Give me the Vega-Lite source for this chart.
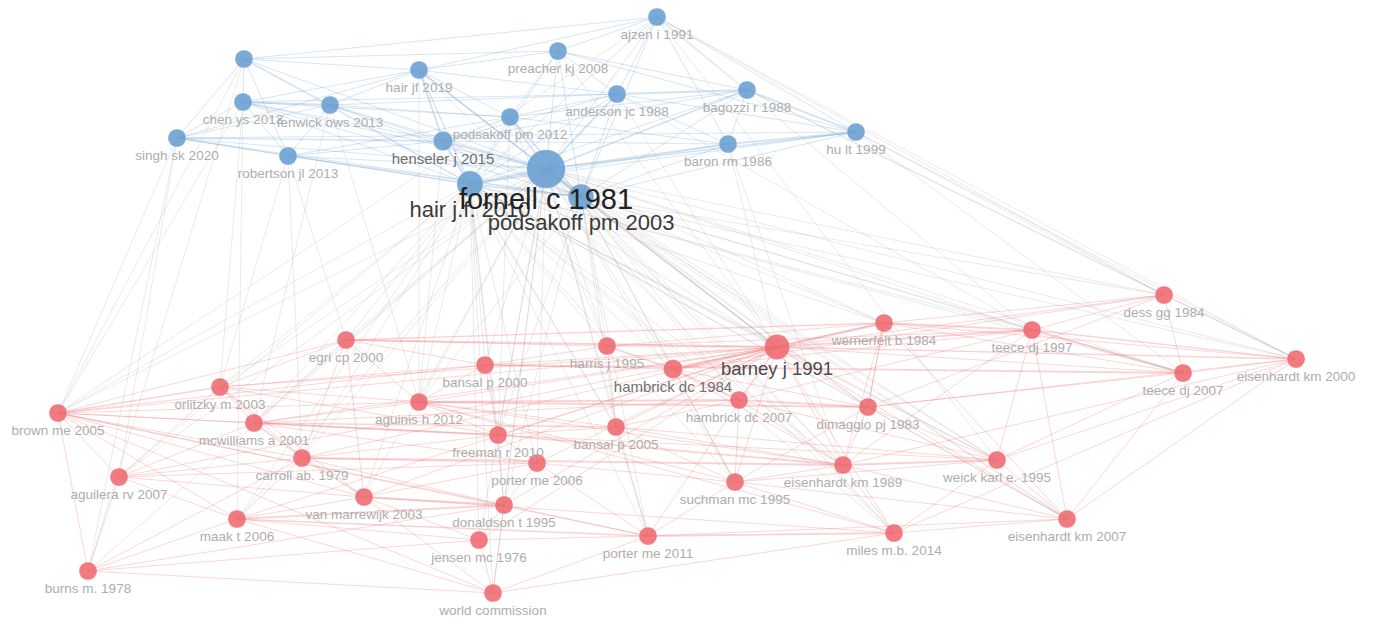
{
  "$schema": "https://vega.github.io/schema/vega-lite/v6.json",
  "width": 1373,
  "height": 625,
  "autosize": {"type": "fit", "contains": "padding"},
  "padding": 0,
  "background": "white",
  "config": {"view": {"stroke": null}, "font": "Liberation Sans"},
  "datasets": {
    "nodes": [
      {"id":"aj","label":"ajzen i 1991","x":657,"y":17,"c":"blue","w":10},
      {"id":"pr","label":"preacher kj 2008","x":558,"y":51,"c":"blue","w":10},
      {"id":"h19","label":"hair jf 2019","x":419,"y":70,"c":"blue","w":10},
      {"id":"b0","label":"","x":244,"y":59,"c":"blue","w":10},
      {"id":"ch","label":"chen ys 2013","x":243,"y":102,"c":"blue","w":10},
      {"id":"fe","label":"fenwick ows 2013","x":330,"y":105,"c":"blue","w":10},
      {"id":"si","label":"singh sk 2020","x":177,"y":138,"c":"blue","w":10},
      {"id":"ro","label":"robertson jl 2013","x":288,"y":156,"c":"blue","w":10},
      {"id":"he","label":"henseler j 2015","x":443,"y":141,"c":"blue","w":14},
      {"id":"p12","label":"podsakoff pm 2012","x":510,"y":117,"c":"blue","w":10},
      {"id":"an","label":"anderson jc 1988","x":617,"y":94,"c":"blue","w":10},
      {"id":"bg","label":"bagozzi r 1988","x":747,"y":90,"c":"blue","w":10},
      {"id":"br","label":"baron rm 1986","x":728,"y":144,"c":"blue","w":10},
      {"id":"hu","label":"hu lt 1999","x":856,"y":132,"c":"blue","w":10},
      {"id":"fo","label":"fornell c 1981","x":546,"y":169,"c":"blue","w":100},
      {"id":"h10","label":"hair j.f. 2010","x":470,"y":184,"c":"blue","w":38},
      {"id":"p03","label":"podsakoff pm 2003","x":581,"y":197,"c":"blue","w":36},
      {"id":"de","label":"dess gg 1984","x":1164,"y":295,"c":"red","w":10},
      {"id":"we","label":"wernerfelt b 1984","x":884,"y":323,"c":"red","w":10},
      {"id":"t97","label":"teece dj 1997","x":1032,"y":330,"c":"red","w":10},
      {"id":"eg","label":"egri cp 2000","x":346,"y":340,"c":"red","w":10},
      {"id":"e00","label":"eisenhardt km 2000","x":1296,"y":359,"c":"red","w":10},
      {"id":"ba","label":"barney j 1991","x":777,"y":347,"c":"red","w":34},
      {"id":"ha","label":"harris j 1995","x":607,"y":346,"c":"red","w":10},
      {"id":"b00","label":"bansal p 2000","x":485,"y":365,"c":"red","w":10},
      {"id":"h84","label":"hambrick dc 1984","x":673,"y":369,"c":"red","w":13},
      {"id":"t07","label":"teece dj 2007","x":1183,"y":373,"c":"red","w":10},
      {"id":"bm","label":"brown me 2005","x":58,"y":413,"c":"red","w":10},
      {"id":"or","label":"orlitzky m 2003","x":220,"y":387,"c":"red","w":10},
      {"id":"ag","label":"aguinis h 2012","x":419,"y":402,"c":"red","w":10},
      {"id":"h07","label":"hambrick dc 2007","x":739,"y":400,"c":"red","w":10},
      {"id":"di","label":"dimaggio pj 1983","x":868,"y":407,"c":"red","w":10},
      {"id":"mc","label":"mcwilliams a 2001","x":254,"y":423,"c":"red","w":10},
      {"id":"fr","label":"freeman r 2010","x":498,"y":435,"c":"red","w":10},
      {"id":"b05","label":"bansal p 2005","x":616,"y":427,"c":"red","w":10},
      {"id":"ca","label":"carroll ab. 1979","x":302,"y":458,"c":"red","w":10},
      {"id":"p06","label":"porter me 2006","x":537,"y":463,"c":"red","w":10},
      {"id":"e89","label":"eisenhardt km 1989","x":843,"y":465,"c":"red","w":10},
      {"id":"wk","label":"weick karl e. 1995","x":997,"y":460,"c":"red","w":10},
      {"id":"au","label":"aguilera rv 2007","x":119,"y":477,"c":"red","w":10},
      {"id":"su","label":"suchman mc 1995","x":735,"y":482,"c":"red","w":10},
      {"id":"va","label":"van marrewijk 2003","x":364,"y":497,"c":"red","w":10},
      {"id":"do","label":"donaldson t 1995","x":504,"y":505,"c":"red","w":10},
      {"id":"ma","label":"maak t 2006","x":237,"y":519,"c":"red","w":10},
      {"id":"e07","label":"eisenhardt km 2007","x":1067,"y":519,"c":"red","w":10},
      {"id":"mi","label":"miles m.b. 2014","x":894,"y":533,"c":"red","w":10},
      {"id":"p11","label":"porter me 2011","x":648,"y":536,"c":"red","w":10},
      {"id":"je","label":"jensen mc 1976","x":479,"y":540,"c":"red","w":10},
      {"id":"bu","label":"burns m. 1978","x":88,"y":571,"c":"red","w":10},
      {"id":"wc","label":"world commission","x":493,"y":593,"c":"red","w":10}
    ],
    "edges": [
      {"s":"fo","t":"aj","w":1},{"s":"fo","t":"pr","w":1},{"s":"fo","t":"h19","w":1.5},{"s":"fo","t":"b0","w":1},{"s":"fo","t":"ch","w":1},{"s":"fo","t":"fe","w":1},{"s":"fo","t":"si","w":1},{"s":"fo","t":"ro","w":1},{"s":"fo","t":"he","w":2},{"s":"fo","t":"p12","w":1.5},{"s":"fo","t":"an","w":2},{"s":"fo","t":"bg","w":2},{"s":"fo","t":"br","w":1.5},{"s":"fo","t":"hu","w":1.5},{"s":"fo","t":"h10","w":3},{"s":"fo","t":"p03","w":3},
      {"s":"h10","t":"aj","w":1},{"s":"h10","t":"pr","w":1},{"s":"h10","t":"h19","w":1.5},{"s":"h10","t":"b0","w":1},{"s":"h10","t":"ch","w":1},{"s":"h10","t":"fe","w":1},{"s":"h10","t":"si","w":1},{"s":"h10","t":"ro","w":1},{"s":"h10","t":"he","w":2},{"s":"h10","t":"p12","w":1},{"s":"h10","t":"an","w":1},{"s":"h10","t":"bg","w":1},{"s":"h10","t":"br","w":1},{"s":"h10","t":"hu","w":1},{"s":"h10","t":"p03","w":2},
      {"s":"p03","t":"aj","w":1},{"s":"p03","t":"pr","w":1},{"s":"p03","t":"h19","w":1},{"s":"p03","t":"ch","w":1},{"s":"p03","t":"fe","w":1},{"s":"p03","t":"si","w":1},{"s":"p03","t":"ro","w":1},{"s":"p03","t":"he","w":1},{"s":"p03","t":"p12","w":2},{"s":"p03","t":"an","w":1},{"s":"p03","t":"bg","w":1},{"s":"p03","t":"br","w":1},{"s":"p03","t":"hu","w":1},
      {"s":"b0","t":"ch","w":1},{"s":"b0","t":"fe","w":1},{"s":"b0","t":"si","w":1},{"s":"b0","t":"ro","w":1},{"s":"b0","t":"h19","w":1},{"s":"b0","t":"pr","w":1},{"s":"b0","t":"aj","w":1},
      {"s":"ch","t":"fe","w":2},{"s":"ch","t":"si","w":1},{"s":"ch","t":"ro","w":1},{"s":"ch","t":"he","w":1},{"s":"ch","t":"h19","w":1},{"s":"ch","t":"p12","w":1},{"s":"ch","t":"an","w":1},
      {"s":"si","t":"ro","w":1},{"s":"si","t":"fe","w":1},{"s":"si","t":"he","w":1.5},{"s":"si","t":"h19","w":1},{"s":"si","t":"hu","w":1},
      {"s":"ro","t":"fe","w":1},{"s":"ro","t":"he","w":1},{"s":"ro","t":"p12","w":1},
      {"s":"fe","t":"h19","w":1},{"s":"fe","t":"he","w":1},{"s":"fe","t":"p12","w":1},{"s":"fe","t":"an","w":1},
      {"s":"h19","t":"he","w":2},{"s":"h19","t":"pr","w":1},{"s":"h19","t":"p12","w":1},{"s":"h19","t":"an","w":1},{"s":"h19","t":"aj","w":1},
      {"s":"he","t":"p12","w":1},{"s":"he","t":"an","w":1},{"s":"he","t":"br","w":1},{"s":"he","t":"bg","w":1},
      {"s":"p12","t":"an","w":1},{"s":"p12","t":"br","w":1},{"s":"p12","t":"bg","w":1},{"s":"p12","t":"pr","w":1},
      {"s":"an","t":"bg","w":2},{"s":"an","t":"br","w":1},{"s":"an","t":"pr","w":1},{"s":"an","t":"aj","w":1},{"s":"an","t":"hu","w":1},
      {"s":"bg","t":"br","w":1},{"s":"bg","t":"hu","w":2},{"s":"bg","t":"pr","w":1},{"s":"bg","t":"aj","w":1},
      {"s":"br","t":"hu","w":2},{"s":"br","t":"aj","w":1},{"s":"pr","t":"aj","w":1},{"s":"hu","t":"aj","w":1},{"s":"pr","t":"hu","w":1},
      {"s":"fo","t":"ba","w":1.5},{"s":"fo","t":"we","w":1},{"s":"fo","t":"t97","w":1},{"s":"fo","t":"eg","w":1},{"s":"fo","t":"e00","w":1},{"s":"fo","t":"ha","w":1},{"s":"fo","t":"b00","w":1},{"s":"fo","t":"h84","w":1},{"s":"fo","t":"t07","w":1},{"s":"fo","t":"bm","w":1},{"s":"fo","t":"or","w":1},{"s":"fo","t":"ag","w":1},{"s":"fo","t":"h07","w":1},{"s":"fo","t":"di","w":1},{"s":"fo","t":"mc","w":1},{"s":"fo","t":"fr","w":1},{"s":"fo","t":"b05","w":1},{"s":"fo","t":"ca","w":1},{"s":"fo","t":"p06","w":1},{"s":"fo","t":"e89","w":1},{"s":"fo","t":"wk","w":1},{"s":"fo","t":"au","w":1},{"s":"fo","t":"su","w":1},{"s":"fo","t":"va","w":1},{"s":"fo","t":"do","w":1},{"s":"fo","t":"ma","w":1},{"s":"fo","t":"e07","w":1},{"s":"fo","t":"mi","w":1},{"s":"fo","t":"p11","w":1},{"s":"fo","t":"je","w":1},{"s":"fo","t":"bu","w":1},{"s":"fo","t":"wc","w":1},{"s":"fo","t":"de","w":1},
      {"s":"h10","t":"ba","w":1.5},{"s":"h10","t":"we","w":1},{"s":"h10","t":"t97","w":1},{"s":"h10","t":"eg","w":1},{"s":"h10","t":"ha","w":1},{"s":"h10","t":"b00","w":1},{"s":"h10","t":"h84","w":1},{"s":"h10","t":"t07","w":1},{"s":"h10","t":"bm","w":1},{"s":"h10","t":"or","w":1},{"s":"h10","t":"ag","w":1},{"s":"h10","t":"h07","w":1},{"s":"h10","t":"di","w":1},{"s":"h10","t":"mc","w":1},{"s":"h10","t":"fr","w":1},{"s":"h10","t":"b05","w":1},{"s":"h10","t":"ca","w":1},{"s":"h10","t":"p06","w":1},{"s":"h10","t":"e89","w":1},{"s":"h10","t":"wk","w":1},{"s":"h10","t":"au","w":1},{"s":"h10","t":"su","w":1},{"s":"h10","t":"va","w":1},{"s":"h10","t":"do","w":1},{"s":"h10","t":"ma","w":1},{"s":"h10","t":"e07","w":1},{"s":"h10","t":"mi","w":1},{"s":"h10","t":"p11","w":1},{"s":"h10","t":"je","w":1},{"s":"h10","t":"wc","w":1},
      {"s":"p03","t":"ba","w":1.5},{"s":"p03","t":"we","w":1},{"s":"p03","t":"t97","w":1},{"s":"p03","t":"ha","w":1},{"s":"p03","t":"h84","w":1},{"s":"p03","t":"t07","w":1},{"s":"p03","t":"ag","w":1},{"s":"p03","t":"h07","w":1},{"s":"p03","t":"di","w":1},{"s":"p03","t":"fr","w":1},{"s":"p03","t":"b05","w":1},{"s":"p03","t":"e89","w":1},{"s":"p03","t":"wk","w":1},{"s":"p03","t":"su","w":1},{"s":"p03","t":"do","w":1},{"s":"p03","t":"mi","w":1},{"s":"p03","t":"p11","w":1},{"s":"p03","t":"e07","w":1},{"s":"p03","t":"de","w":1},{"s":"p03","t":"e00","w":1},
      {"s":"he","t":"ba","w":1},{"s":"he","t":"ag","w":1},{"s":"he","t":"b05","w":1},{"s":"h19","t":"ag","w":1},{"s":"h19","t":"ba","w":1},{"s":"h19","t":"mi","w":1},{"s":"an","t":"ba","w":1},{"s":"an","t":"t97","w":1},{"s":"bg","t":"e00","w":1},{"s":"bg","t":"de","w":1},{"s":"hu","t":"e00","w":1},{"s":"hu","t":"t07","w":1},{"s":"hu","t":"de","w":1},{"s":"br","t":"ba","w":1},{"s":"br","t":"e89","w":1},{"s":"pr","t":"ba","w":1},{"s":"aj","t":"e00","w":1},{"s":"aj","t":"de","w":1},{"s":"aj","t":"t97","w":1},{"s":"si","t":"bm","w":1},{"s":"si","t":"au","w":1},{"s":"si","t":"bu","w":1},{"s":"ch","t":"bm","w":1},{"s":"ch","t":"or","w":1},{"s":"ch","t":"ma","w":1},{"s":"ro","t":"eg","w":1},{"s":"ro","t":"or","w":1},{"s":"ro","t":"ca","w":1},{"s":"fe","t":"mc","w":1},{"s":"fe","t":"ag","w":1},{"s":"p12","t":"fr","w":1},{"s":"p12","t":"ha","w":1},{"s":"b0","t":"bm","w":1},{"s":"b0","t":"bu","w":1},{"s":"aj","t":"bm","w":1},{"s":"aj","t":"wk","w":1},
      {"s":"ba","t":"we","w":3},{"s":"ba","t":"t97","w":2},{"s":"ba","t":"de","w":1},{"s":"ba","t":"e00","w":1.5},{"s":"ba","t":"t07","w":1},{"s":"ba","t":"ha","w":1},{"s":"ba","t":"h84","w":2},{"s":"ba","t":"b00","w":1},{"s":"ba","t":"eg","w":2},{"s":"ba","t":"h07","w":1},{"s":"ba","t":"di","w":1},{"s":"ba","t":"e89","w":1},{"s":"ba","t":"wk","w":1},{"s":"ba","t":"su","w":1},{"s":"ba","t":"mi","w":1},{"s":"ba","t":"e07","w":1},{"s":"ba","t":"p11","w":1},{"s":"ba","t":"ag","w":1},{"s":"ba","t":"fr","w":1},{"s":"ba","t":"b05","w":1},{"s":"ba","t":"bm","w":1},{"s":"ba","t":"or","w":1},{"s":"ba","t":"mc","w":1},{"s":"ba","t":"ca","w":1},{"s":"ba","t":"p06","w":1},{"s":"ba","t":"va","w":1},{"s":"ba","t":"do","w":1},{"s":"ba","t":"je","w":1},{"s":"ba","t":"ma","w":1},{"s":"ba","t":"au","w":1},
      {"s":"we","t":"t97","w":2},{"s":"we","t":"de","w":1},{"s":"we","t":"e00","w":1},{"s":"we","t":"t07","w":1},{"s":"we","t":"h84","w":1},{"s":"we","t":"di","w":1},{"s":"we","t":"e89","w":1},
      {"s":"t97","t":"de","w":1},{"s":"t97","t":"e00","w":1.5},{"s":"t97","t":"t07","w":2},{"s":"t97","t":"e89","w":1},{"s":"t97","t":"wk","w":1},{"s":"t97","t":"e07","w":1},{"s":"t97","t":"h07","w":1},
      {"s":"de","t":"t07","w":1},{"s":"de","t":"e00","w":1},{"s":"de","t":"di","w":1},{"s":"de","t":"h84","w":1},
      {"s":"e00","t":"t07","w":1},{"s":"e00","t":"e89","w":1},{"s":"e00","t":"e07","w":1},{"s":"e00","t":"wk","w":1},{"s":"e00","t":"mi","w":1},{"s":"e00","t":"di","w":1},
      {"s":"t07","t":"e07","w":1},{"s":"t07","t":"wk","w":1},{"s":"t07","t":"di","w":1},
      {"s":"eg","t":"ha","w":1},{"s":"eg","t":"b00","w":1},{"s":"eg","t":"bm","w":1},{"s":"eg","t":"or","w":1},{"s":"eg","t":"ca","w":1},{"s":"eg","t":"va","w":1},{"s":"eg","t":"ag","w":1},{"s":"eg","t":"mc","w":1},{"s":"eg","t":"we","w":1.5},
      {"s":"ha","t":"b00","w":1},{"s":"ha","t":"h84","w":2},{"s":"ha","t":"t97","w":1},{"s":"ha","t":"we","w":1},{"s":"ha","t":"b05","w":1},
      {"s":"b00","t":"h84","w":1},{"s":"b00","t":"ag","w":1},{"s":"b00","t":"or","w":1},{"s":"b00","t":"fr","w":1},{"s":"b00","t":"bm","w":1},{"s":"b00","t":"t07","w":2},
      {"s":"h84","t":"h07","w":2},{"s":"h84","t":"t97","w":1},{"s":"h84","t":"di","w":1},{"s":"h84","t":"e89","w":1},{"s":"h84","t":"su","w":1},
      {"s":"bm","t":"or","w":1.5},{"s":"bm","t":"mc","w":1},{"s":"bm","t":"ca","w":1},{"s":"bm","t":"au","w":1},{"s":"bm","t":"ag","w":1},{"s":"bm","t":"ma","w":1},{"s":"bm","t":"bu","w":1},{"s":"bm","t":"va","w":1},{"s":"bm","t":"fr","w":1},{"s":"bm","t":"do","w":1},{"s":"bm","t":"p11","w":1},{"s":"bm","t":"wc","w":1},
      {"s":"or","t":"mc","w":1},{"s":"or","t":"ag","w":1},{"s":"or","t":"fr","w":1},{"s":"or","t":"ca","w":1},{"s":"or","t":"va","w":1},{"s":"or","t":"au","w":1},
      {"s":"ag","t":"h07","w":2},{"s":"ag","t":"di","w":2},{"s":"ag","t":"mc","w":1},{"s":"ag","t":"fr","w":1},{"s":"ag","t":"b05","w":1},{"s":"ag","t":"e89","w":1},{"s":"ag","t":"su","w":1},{"s":"ag","t":"mi","w":1},
      {"s":"h07","t":"di","w":2},{"s":"h07","t":"e89","w":1},{"s":"h07","t":"su","w":1},{"s":"h07","t":"wk","w":1},
      {"s":"di","t":"e89","w":1},{"s":"di","t":"su","w":1},{"s":"di","t":"wk","w":1},{"s":"di","t":"e07","w":1},{"s":"di","t":"we","w":1},
      {"s":"mc","t":"fr","w":2},{"s":"mc","t":"ca","w":1},{"s":"mc","t":"h07","w":1},{"s":"mc","t":"p06","w":1},{"s":"mc","t":"va","w":1},{"s":"mc","t":"au","w":1},{"s":"mc","t":"b05","w":1.5},
      {"s":"fr","t":"b05","w":1},{"s":"fr","t":"e89","w":2},{"s":"fr","t":"p06","w":1},{"s":"fr","t":"do","w":1},{"s":"fr","t":"ca","w":1},{"s":"fr","t":"wk","w":1},
      {"s":"b05","t":"su","w":1},{"s":"b05","t":"e89","w":1},{"s":"b05","t":"p11","w":1},{"s":"b05","t":"h07","w":1},{"s":"b05","t":"wk","w":1},
      {"s":"ca","t":"p06","w":1},{"s":"ca","t":"e89","w":2},{"s":"ca","t":"va","w":1},{"s":"ca","t":"do","w":1},{"s":"ca","t":"au","w":1},{"s":"ca","t":"ma","w":1},
      {"s":"p06","t":"p11","w":1},{"s":"p06","t":"do","w":1},{"s":"p06","t":"su","w":1},{"s":"p06","t":"va","w":1},
      {"s":"e89","t":"wk","w":2},{"s":"e89","t":"e07","w":1},{"s":"e89","t":"su","w":1},{"s":"e89","t":"mi","w":1},
      {"s":"wk","t":"e07","w":1},{"s":"wk","t":"mi","w":1},{"s":"wk","t":"su","w":1},
      {"s":"au","t":"va","w":1},{"s":"au","t":"ma","w":1},{"s":"au","t":"bu","w":1},{"s":"au","t":"p06","w":1},
      {"s":"su","t":"mi","w":1},{"s":"su","t":"p11","w":1},{"s":"su","t":"e07","w":1},
      {"s":"va","t":"do","w":2},{"s":"va","t":"ma","w":1},{"s":"va","t":"je","w":1},{"s":"va","t":"mi","w":1},
      {"s":"do","t":"je","w":1},{"s":"do","t":"p11","w":1},{"s":"do","t":"wc","w":1},
      {"s":"ma","t":"do","w":2},{"s":"ma","t":"bu","w":1},{"s":"ma","t":"je","w":1},{"s":"ma","t":"p11","w":1.5},
      {"s":"e07","t":"mi","w":1},{"s":"e07","t":"p11","w":1},{"s":"mi","t":"p11","w":2},{"s":"p11","t":"je","w":1},{"s":"p11","t":"wc","w":1},{"s":"je","t":"wc","w":1},{"s":"bu","t":"wc","w":1},{"s":"bu","t":"je","w":1},{"s":"bu","t":"ca","w":1},{"s":"bu","t":"do","w":1},{"s":"wc","t":"va","w":1},{"s":"wc","t":"ma","w":1},{"s":"wc","t":"mi","w":1},{"s":"e07","t":"we","w":1}
    ]
  },
  "layer": [
    {
      "data": {"name": "edges"},
      "transform": [
        {"lookup": "s", "from": {"data": {"name": "nodes"}, "key": "id", "fields": ["x", "y", "c"]}, "as": ["xa", "ya", "ca"]},
        {"lookup": "t", "from": {"data": {"name": "nodes"}, "key": "id", "fields": ["x", "y", "c"]}, "as": ["xb", "yb", "cb"]},
        {"calculate": "datum.ca == datum.cb ? datum.ca : 'x'", "as": "k"}
      ],
      "mark": {"type": "rule", "strokeOpacity": 0.3},
      "encoding": {
        "x": {"field": "xa", "type": "quantitative", "scale": {"domain": [0, 1373], "nice": false, "zero": false}, "axis": null},
        "y": {"field": "ya", "type": "quantitative", "scale": {"domain": [0, 625], "nice": false, "zero": false, "reverse": true}, "axis": null},
        "x2": {"field": "xb"},
        "y2": {"field": "yb"},
        "color": {"field": "k", "type": "nominal", "scale": {"domain": ["blue", "red", "x"], "range": ["#6a9fd2", "#ee6a70", "#b0b0b0"]}, "legend": null},
        "strokeWidth": {"field": "w", "type": "quantitative", "scale": {"domain": [1, 3], "range": [0.9, 2.8]}, "legend": null}
      }
    },
    {
      "data": {"name": "nodes"},
      "mark": {"type": "circle", "opacity": 0.88, "stroke": "#ffffff", "strokeOpacity": 0.3, "strokeWidth": 1},
      "encoding": {
        "x": {"field": "x", "type": "quantitative"},
        "y": {"field": "y", "type": "quantitative"},
        "color": {"field": "c", "type": "nominal", "scale": {"domain": ["blue", "red"], "range": ["#6a9fd2", "#e9555b"]}, "legend": null},
        "size": {"field": "w", "type": "quantitative", "scale": {"domain": [10, 100], "range": [330, 1500]}, "legend": null}
      }
    },
    {
      "data": {"name": "nodes"},
      "transform": [{"filter": "datum.w < 13"}],
      "mark": {"type": "text", "fontSize": 13.5, "dy": 18, "fill": "#adadad", "baseline": "middle", "align": "center"},
      "encoding": {
        "x": {"field": "x", "type": "quantitative"},
        "y": {"field": "y", "type": "quantitative"},
        "text": {"field": "label"}
      }
    },
    {
      "data": {"name": "nodes"},
      "transform": [{"filter": "datum.w >= 13 && datum.w < 20"}],
      "mark": {"type": "text", "fontSize": 15, "dy": 18, "fill": "#707070", "baseline": "middle", "align": "center"},
      "encoding": {
        "x": {"field": "x", "type": "quantitative"},
        "y": {"field": "y", "type": "quantitative"},
        "text": {"field": "label"}
      }
    },
    {
      "data": {"name": "nodes"},
      "transform": [{"filter": "datum.w >= 20 && datum.w < 36"}],
      "mark": {"type": "text", "fontSize": 18.5, "dy": 22, "fill": "#4a4a4a", "baseline": "middle", "align": "center"},
      "encoding": {
        "x": {"field": "x", "type": "quantitative"},
        "y": {"field": "y", "type": "quantitative"},
        "text": {"field": "label"}
      }
    },
    {
      "data": {"name": "nodes"},
      "transform": [{"filter": "datum.w >= 36 && datum.w < 90"}],
      "mark": {"type": "text", "fontSize": 22, "dy": 26, "fill": "#3a3a3a", "baseline": "middle", "align": "center"},
      "encoding": {
        "x": {"field": "x", "type": "quantitative"},
        "y": {"field": "y", "type": "quantitative"},
        "text": {"field": "label"}
      }
    },
    {
      "data": {"name": "nodes"},
      "transform": [{"filter": "datum.w >= 90"}],
      "mark": {"type": "text", "fontSize": 29, "dy": 31, "fill": "#222222", "baseline": "middle", "align": "center"},
      "encoding": {
        "x": {"field": "x", "type": "quantitative"},
        "y": {"field": "y", "type": "quantitative"},
        "text": {"field": "label"}
      }
    }
  ]
}
